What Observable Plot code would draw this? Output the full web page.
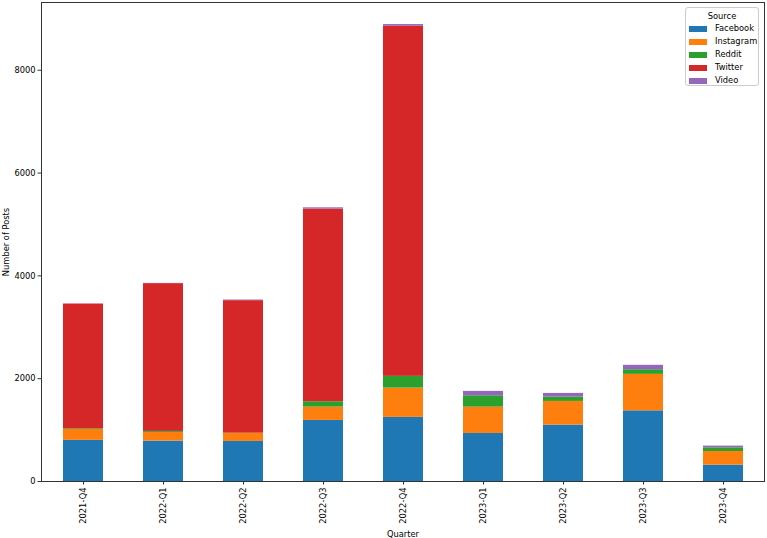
<!DOCTYPE html>
<html>
<head>
<meta charset="utf-8">
<script src="https://cdn.jsdelivr.net/npm/d3@7"></script>
<script src="https://cdn.jsdelivr.net/npm/@observablehq/plot@0.6"></script>
<style>
  html, body { margin: 0; padding: 0; background: #fff; }
  #wrap { position: relative; width: 767px; height: 538px; font-family: "DejaVu Sans", sans-serif; }
  #legend {
    position: absolute; left: 685px; top: 7px; width: 74px; height: 79px;
    border: 1px solid #cccccc; border-radius: 3px; background: rgba(255,255,255,0.8);
    font-size: 8.3px; color: #000; box-sizing: border-box;
  }
  #legend .title { text-align: center; margin-top: 2px; height: 12px; line-height: 12px; }
  #legend .row { display: flex; align-items: center; height: 13px; line-height: 13px; }
  #legend .sw { width: 18px; height: 6px; margin-left: 3px; margin-right: 8px; }
</style>
</head>
<body>
<div id="wrap"></div>
<script>
const quarters = ["2021-Q4","2022-Q1","2022-Q2","2022-Q3","2022-Q4","2023-Q1","2023-Q2","2023-Q3","2023-Q4"];
const sources = ["Facebook","Instagram","Reddit","Twitter","Video"];
const colors = ["#1f77b4","#ff7f0e","#2ca02c","#d62728","#9467bd"];
const facebook  = [800, 785, 779, 1188, 1247, 934, 1097, 1375, 318];
const instagram = [212, 170, 156, 259, 570, 512, 461, 709, 266];
const reddit    = [14, 19, 5, 104, 228, 221, 84, 90, 71];
const twitter   = [2425, 2875, 2578, 3748, 6811, 0, 0, 0, 0];
const video     = [5, 5, 12, 25, 33, 86, 72, 86, 33];
const yTicks = [0, 2000, 4000, 6000, 8000];

const series = {Facebook: facebook, Instagram: instagram, Reddit: reddit, Twitter: twitter, Video: video};
const data = [];
quarters.forEach((q, i) => {
  sources.forEach(s => data.push({quarter: q, source: s, posts: series[s][i]}));
});

const chart = Plot.plot({
  width: 767,
  height: 538,
  marginLeft: 41,
  marginRight: 3,
  marginTop: 2,
  marginBottom: 57,
  style: {fontFamily: "DejaVu Sans, sans-serif", fontSize: "8.3px", color: "#000", background: "#fff"},
  x: {domain: quarters, paddingInner: 0.5, paddingOuter: 0.25},
  y: {domain: [0, 9318]},
  color: {domain: sources, range: colors},
  marks: [
    Plot.barY(data, Plot.stackY({order: null}, {x: "quarter", y: "posts", fill: "source"})),
    Plot.frame({stroke: "#333", strokeWidth: 1}),
    Plot.axisY({ticks: yTicks, tickFormat: d3.format("d"), tickSize: 3.5, tickPadding: 2.5, label: "Number of Posts", labelAnchor: "center", labelArrow: false, labelOffset: 38, stroke: "#333"}),
    Plot.axisX({tickSize: 3.5, tickPadding: 2.5, tickRotate: -90, label: "Quarter", labelAnchor: "center", labelArrow: false, labelOffset: 55, stroke: "#333"})
  ]
});

const wrap = document.getElementById("wrap");
wrap.appendChild(chart);

const legend = document.createElement("div");
legend.id = "legend";
const title = document.createElement("div");
title.className = "title";
title.textContent = "Source";
legend.appendChild(title);
sources.forEach((s, i) => {
  const row = document.createElement("div");
  row.className = "row";
  const sw = document.createElement("span");
  sw.className = "sw";
  sw.style.background = colors[i];
  const t = document.createElement("span");
  t.textContent = s;
  row.appendChild(sw);
  row.appendChild(t);
  legend.appendChild(row);
});
wrap.appendChild(legend);
</script>
</body>
</html>
